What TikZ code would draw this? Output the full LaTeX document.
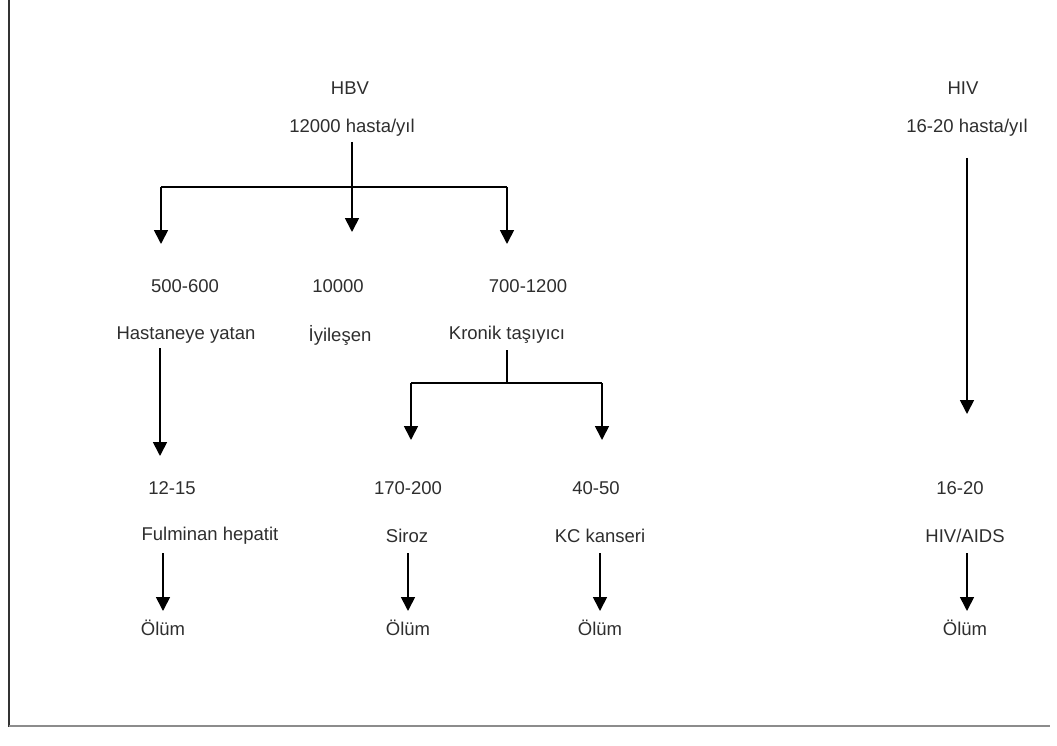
\documentclass[tikz,border=0pt]{standalone}
\usepackage{fontspec}
\setmainfont{Liberation Sans}
\usetikzlibrary{arrows.meta}
\definecolor{txt}{HTML}{2E2E2E}
\begin{document}
\begin{tikzpicture}[x=1pt,y=-1pt,
  lbl/.style={text=txt,font=\fontsize{18.5}{22}\selectfont,inner sep=2pt},
  ln/.style={line width=1.7pt,black},
  arr/.style={ln,-{Triangle[width=14pt,length=14pt]}}]
\useasboundingbox (0,0) rectangle (1057,746);
% frame lines
\draw[line width=1.6pt,black!80] (9,0) -- (9,727);
\draw[line width=1.4pt,black!45] (9,726) -- (1050,726);
% texts
\node[lbl] (hbv) at (350,88) {HBV};
\node[lbl] (hbvn) at (352,128) {12000 hasta/yıl};
\node[lbl] (a1) at (185,286) {500-600};
\node[lbl] (a2) at (338,286) {10000};
\node[lbl] (a3) at (528,286) {700-1200};
\node[lbl] (b1) at (186,335) {Hastaneye yatan};
\node[lbl] (b2) at (340,335) {İyileşen};
\node[lbl] (b3) at (507,335) {Kronik taşıyıcı};
\node[lbl] (c1) at (172,488) {12-15};
\node[lbl] (c2) at (408,488) {170-200};
\node[lbl] (c3) at (596,488) {40-50};
\node[lbl] (c4) at (960,488) {16-20};
\node[lbl] (d1) at (210,536) {Fulminan hepatit};
\node[lbl] (d2) at (407,536) {Siroz};
\node[lbl] (d3) at (600,536) {KC kanseri};
\node[lbl] (d4) at (965,536) {HIV/AIDS};
\node[lbl] (e1) at (163,628) {Ölüm};
\node[lbl] (e2) at (408,628) {Ölüm};
\node[lbl] (e3) at (600,628) {Ölüm};
\node[lbl] (e4) at (965,628) {Ölüm};
\node[lbl] (hiv) at (963,88) {HIV};
\node[lbl] (hivn) at (967,128) {16-20 hasta/yıl};
% HBV tree coordinates
\coordinate (s0) at (352,142);
\coordinate (jM) at (352,187);
\coordinate (jL) at (161,187);
\coordinate (jR) at (507,187);
\coordinate (tL) at (161,244);
\coordinate (tM) at (352,232);
\coordinate (tR) at (507,244);
\draw[ln] (s0) -- (jM);
\draw[ln] (jL) -- (jR);
\draw[arr] (jL) -- (tL);
\draw[arr] (jM) -- (tM);
\draw[arr] (jR) -- (tR);
% Hastaneye yatan -> 12-15
\coordinate (h0) at (160,348);
\coordinate (h1) at (160,456);
\draw[arr] (h0) -- (h1);
% Kronik tasiyici branch
\coordinate (k0) at (507,350);
\coordinate (kM) at (507,383);
\coordinate (kL) at (411,383);
\coordinate (kR) at (602,383);
\coordinate (kLt) at (411,440);
\coordinate (kRt) at (602,440);
\draw[ln] (k0) -- (kM);
\draw[ln] (kL) -- (kR);
\draw[arr] (kL) -- (kLt);
\draw[arr] (kR) -- (kRt);
% HIV
\coordinate (v0) at (967,158);
\coordinate (v1) at (967,414);
\draw[arr] (v0) -- (v1);
% to Olum
\coordinate (o1s) at (163,553); \coordinate (o1t) at (163,611);
\coordinate (o2s) at (408,553); \coordinate (o2t) at (408,611);
\coordinate (o3s) at (600,553); \coordinate (o3t) at (600,611);
\coordinate (o4s) at (967,553); \coordinate (o4t) at (967,611);
\draw[arr] (o1s) -- (o1t);
\draw[arr] (o2s) -- (o2t);
\draw[arr] (o3s) -- (o3t);
\draw[arr] (o4s) -- (o4t);
\end{tikzpicture}
\end{document}
